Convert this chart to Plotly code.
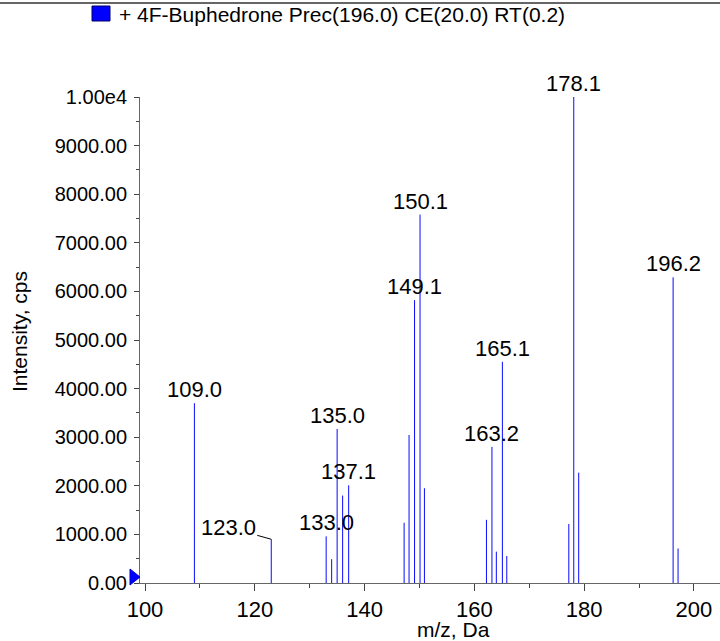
import plotly.graph_objects as go

# ---- data ----
mz = [109.0, 123.0, 133.0, 134.0, 135.0, 136.0, 137.1, 147.2, 148.1, 149.1, 150.1,
      150.9, 162.2, 163.2, 164.0, 165.1, 165.9, 177.2, 178.1, 179.0, 196.2, 197.1]
intensity = [3700, 900, 960, 490, 3170, 1800, 2010, 1240, 3045, 5820, 7580,
             1950, 1300, 2800, 645, 4550, 555, 1215, 10000, 2270, 6290, 710]
labeled_mz = [109.0, 123.0, 133.0, 135.0, 137.1, 149.1, 150.1, 163.2, 165.1, 178.1, 196.2]

x_tickvals = [100, 120, 140, 160, 180, 200]
y_tickvals = [0, 1000, 2000, 3000, 4000, 5000, 6000, 7000, 8000, 9000, 10000]
y_ticktext = ["0.00", "1000.00", "2000.00", "3000.00", "4000.00", "5000.00",
              "6000.00", "7000.00", "8000.00", "9000.00", "1.00e4"]
legend_text = "+ 4F-Buphedrone Prec(196.0) CE(20.0) RT(0.2)"
x_title = "m/z, Da"
y_title = "Intensity, cps"

FONT = "Liberation Sans, Arial, sans-serif"
W, H = 720, 641
ML, MR, MT, MB = 140, 0, 97, 58
PW, PH = W - ML - MR, H - MT - MB
XMIN, XMAX = 99.09, 204.74
XTICK_SIZE = 22
YTICK_SIZE = 20
PEAK_SIZE = 22
LEG_SIZE = 21
TITLE_SIZE = 21

# stick spectrum built from the arrays
xs, ys = [], []
for m, v in zip(mz, intensity):
    xs += [m, m, None]
    ys += [0, v, None]

fig = go.Figure()
fig.add_trace(go.Scatter(x=xs, y=ys, mode="lines",
                         line=dict(color="#0a0aff", width=1),
                         hoverinfo="skip", showlegend=False))

annotations = []
for m, v in zip(mz, intensity):
    if m not in labeled_mz:
        continue
    if m == 123.0:
        annotations.append(dict(x=m, y=v, text=f"{m:.1f}", showarrow=True,
                                arrowhead=0, arrowwidth=1, arrowcolor="#000000",
                                ax=-43, ay=-12, standoff=0,
                                font=dict(family=FONT, size=PEAK_SIZE, color="#000000")))
    else:
        annotations.append(dict(x=m, y=v, text=f"{m:.1f}", showarrow=False,
                                xanchor="center", yanchor="bottom", yshift=-1,
                                font=dict(family=FONT, size=PEAK_SIZE, color="#000000")))


def px(xp):
    return (xp - ML) / PW


def py(yp):
    return (H - MB - yp) / PH


annotations.append(dict(xref="paper", yref="paper", x=px(117), y=py(14),
                        text=legend_text, showarrow=False, xanchor="left",
                        yanchor="middle",
                        font=dict(family=FONT, size=LEG_SIZE, color="#000000")))
annotations.append(dict(xref="paper", yref="paper", x=px(453), y=py(629),
                        text=x_title, showarrow=False, xanchor="center",
                        yanchor="middle",
                        font=dict(family=FONT, size=TITLE_SIZE, color="#000000")))
annotations.append(dict(xref="paper", yref="paper", x=px(19), y=py(332),
                        text=y_title, showarrow=False, textangle=-90,
                        xanchor="center", yanchor="middle",
                        font=dict(family=FONT, size=TITLE_SIZE, color="#000000")))

shapes = [
    dict(type="line", xref="paper", yref="paper", x0=px(0), x1=px(720),
         y0=py(3), y1=py(3), line=dict(color="#333333", width=1.5)),
    dict(type="rect", xref="paper", yref="paper", x0=px(92), x1=px(110),
         y0=py(21), y1=py(6), fillcolor="#0000ff",
         line=dict(color="#000066", width=1)),
    dict(type="path", xref="paper", yref="paper",
         path=f"M {px(130)} {py(569)} L {px(140)} {py(577)} L {px(130)} {py(585)} Z",
         fillcolor="#0000ff", line=dict(color="#0000cc", width=1)),
]

fig.update_layout(
    width=W, height=H,
    margin=dict(l=ML, r=MR, t=MT, b=MB, pad=0),
    paper_bgcolor="white", plot_bgcolor="white",
    showlegend=False,
    annotations=annotations, shapes=shapes,
    font=dict(family=FONT, size=XTICK_SIZE, color="#000000"),
)
fig.update_xaxes(range=[XMIN, XMAX], showgrid=False, zeroline=False,
                 showline=True, linecolor="#666666", linewidth=1,
                 ticks="outside", ticklen=7, tickcolor="#444444", tickwidth=1,
                 tickvals=x_tickvals,
                 tickfont=dict(family=FONT, size=XTICK_SIZE, color="#000000"),
                 minor=dict(dtick=10, ticks="outside", ticklen=4,
                            tickcolor="#444444", showgrid=False))
fig.update_yaxes(range=[0, 10000], showgrid=False, zeroline=False,
                 showline=True, linecolor="#666666", linewidth=1,
                 ticks="outside", ticklen=5, tickcolor="#444444", tickwidth=1,
                 ticklabelstandoff=3,
                 tickvals=y_tickvals, ticktext=y_ticktext,
                 tickfont=dict(family=FONT, size=YTICK_SIZE, color="#000000"),
                 minor=dict(dtick=500, ticks="outside", ticklen=3,
                            tickcolor="#444444", showgrid=False))

fig.write_html("out.html",
               config={"displayModeBar": False, "staticPlot": True},
               post_script="document.body.style.margin='0px';"
                           "document.body.style.overflow='hidden';")
